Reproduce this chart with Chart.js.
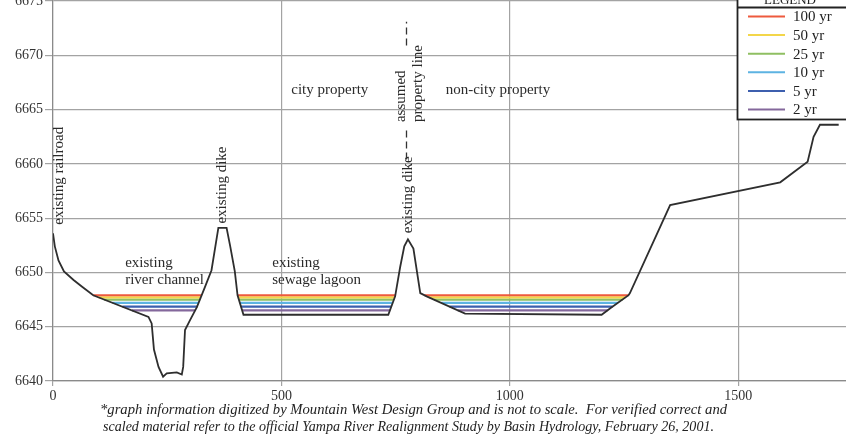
<!DOCTYPE html>
<html>
<head>
<meta charset="utf-8">
<script src="https://cdn.jsdelivr.net/npm/chart.js@4/dist/chart.umd.min.js"></script>
<style>
  html, body { margin: 0; padding: 0; background: #fff; overflow: hidden; }
  #wrap { position: relative; width: 846px; height: 440px; }
  canvas { display: block; }
</style>
</head>
<body>
<div id="wrap"><canvas id="xs" width="846" height="440"></canvas></div>
<script>
// Ground profile across the Yampa River corridor (station in ft, elevation in ft)
const station = [0, 4, 12, 24, 45, 63, 88, 209, 216, 221, 231, 241, 249, 271, 282, 285, 289, 300, 315, 333, 347, 362, 380, 388, 398, 404, 417, 734, 749, 760, 769, 777, 789, 804, 818, 902, 1201, 1220, 1260, 1263, 1351, 1592, 1652, 1665, 1679, 1720];
const groundElev = [6653.6, 6652.4, 6651.1, 6650.1, 6649.3, 6648.7, 6647.9, 6645.9, 6645.3, 6642.9, 6641.3, 6640.4, 6640.7, 6640.8, 6640.6, 6641.3, 6644.7, 6645.6, 6646.8, 6648.7, 6650.2, 6654.1, 6654.1, 6652.4, 6650.1, 6647.9, 6646.1, 6646.1, 6647.8, 6650.5, 6652.4, 6653.05, 6652.2, 6648.1, 6647.8, 6646.2, 6646.1, 6646.7, 6647.9, 6648.1, 6656.2, 6658.3, 6660.2, 6662.5, 6663.6, 6663.6];

// Flood return periods and their water-surface elevations
const returnPeriods = ['100 yr', '50 yr', '25 yr', '10 yr', '5 yr', '2 yr'];
const waterElev = [6647.9, 6647.7, 6647.5, 6647.2, 6646.85, 6646.5];
const periodColors = ['#ee5a3e', '#f3d64a', '#8fbf62', '#5db3e2', '#3d5fae', '#84689c'];

// Where each water surface meets the banks (station), per basin
const channelLeft  = [88, 100, 112, 130, 152, 173];
const channelRight = [325, 323, 322, 319, 316, 311];
const lagoonLeft   = [404, 405, 407, 409, 411, 414];
const lagoonRight  = [749, 748, 746, 744, 741, 738];
const eastLeft     = [813, 823, 834, 850, 868, 886];
const eastRight    = [1260, 1253, 1247, 1237, 1225, 1214];

// Axis ticks
const xTicks = [0, 500, 1000, 1500];
const yTicks = [6640, 6645, 6650, 6655, 6660, 6665, 6670, 6675];

const serif = '"Liberation Serif", "Times New Roman", serif';

const groundData = station.map((s, i) => ({ x: s, y: groundElev[i] }));

const waterSets = returnPeriods.map((label, i) => ({
  label: label,
  data: [
    { x: channelLeft[i], y: waterElev[i] }, { x: channelRight[i], y: waterElev[i] },
    { x: channelRight[i], y: null },
    { x: lagoonLeft[i], y: waterElev[i] }, { x: lagoonRight[i], y: waterElev[i] },
    { x: lagoonRight[i], y: null },
    { x: eastLeft[i], y: waterElev[i] }, { x: eastRight[i], y: waterElev[i] }
  ],
  showLine: true,
  spanGaps: false,
  borderColor: periodColors[i],
  borderWidth: 2.2,
  pointRadius: 0,
  tension: 0
}));

// Text notes placed in data coordinates
const notes = [
  { text: 'city property', x: 606, y: 6666.8, align: 'center', rot: false },
  { text: 'non-city property', x: 974, y: 6666.8, align: 'center', rot: false },
  { text: 'existing', x: 158, y: 6650.9, align: 'left', rot: false },
  { text: 'river channel', x: 158, y: 6649.3, align: 'left', rot: false },
  { text: 'existing', x: 480, y: 6650.9, align: 'left', rot: false },
  { text: 'sewage lagoon', x: 480, y: 6649.3, align: 'left', rot: false },
  { text: 'existing railroad', x: 13, y: 6658.9, align: 'center', rot: true },
  { text: 'existing dike', x: 370, y: 6658.05, align: 'center', rot: true },
  { text: 'existing dike', x: 777, y: 6653.6, align: 'left', rot: true },
  { text: 'assumed', x: 762, y: 6663.85, align: 'left', rot: true },
  { text: 'property line', x: 799, y: 6663.85, align: 'left', rot: true }
];
// Dashed property line segments (station, from elev, to elev)
const propertyLineStation = 773;
const propertyLineSpans = [[6660.4, 6663.4], [6670.9, 6673.1]];

const footnote = [
  '*graph information digitized by Mountain West Design Group and is not to scale.  For verified correct and',
  'scaled material refer to the official Yampa River Realignment Study by Basin Hydrology, February 26, 2001.'
];

const decorations = {
  id: 'decorations',
  afterDatasetsDraw(chart) {
    const ctx = chart.ctx;
    const xs = chart.scales.x, ys = chart.scales.y;
    ctx.save();
    ctx.fillStyle = '#2b2b2b';
    ctx.font = '15px ' + serif;
    ctx.textBaseline = 'middle';
    notes.forEach(n => {
      const px = xs.getPixelForValue(n.x), py = ys.getPixelForValue(n.y);
      ctx.save();
      ctx.translate(px, py);
      if (n.rot) ctx.rotate(-Math.PI / 2);
      ctx.textAlign = n.align;
      ctx.fillText(n.text, 0, 0);
      ctx.restore();
    });
    // dashed property line
    ctx.strokeStyle = '#333';
    ctx.lineWidth = 1.3;
    ctx.setLineDash([7, 4]);
    const lx = Math.round(xs.getPixelForValue(propertyLineStation)) + 0.5;
    propertyLineSpans.forEach(([a, b]) => {
      ctx.beginPath();
      ctx.moveTo(lx, ys.getPixelForValue(a));
      ctx.lineTo(lx, ys.getPixelForValue(b));
      ctx.stroke();
    });
    ctx.setLineDash([]);
    ctx.restore();
  },
  afterDraw(chart) {
    const ctx = chart.ctx;
    ctx.save();
    // legend box
    const bx = 737.5, by = -30, bw = 130, bottom = 119.5;
    ctx.fillStyle = '#fff';
    ctx.fillRect(bx, by, bw, bottom - by);
    ctx.strokeStyle = '#222';
    ctx.lineWidth = 1.8;
    ctx.strokeRect(bx, by, bw, bottom - by);
    ctx.beginPath();
    ctx.moveTo(bx, 7.5);
    ctx.lineTo(bx + bw, 7.5);
    ctx.stroke();
    ctx.fillStyle = '#222';
    ctx.font = '13px ' + serif;
    ctx.textAlign = 'center';
    ctx.textBaseline = 'alphabetic';
    ctx.fillText('LEGEND', 790, 4);
    ctx.font = '15px ' + serif;
    ctx.textAlign = 'left';
    ctx.textBaseline = 'middle';
    returnPeriods.forEach((label, i) => {
      const y = 16.5 + i * 18.6;
      ctx.strokeStyle = periodColors[i];
      ctx.lineWidth = 2;
      ctx.beginPath();
      ctx.moveTo(748, y);
      ctx.lineTo(785, y);
      ctx.stroke();
      ctx.fillStyle = '#222';
      ctx.fillText(label, 793, y + 1);
    });
    // footnote
    ctx.fillStyle = '#222';
    ctx.textBaseline = 'alphabetic';
    ctx.font = 'italic 14.65px ' + serif;
    ctx.fillText(footnote[0], 100, 414);
    ctx.font = 'italic 14.05px ' + serif;
    ctx.fillText(footnote[1], 103, 431);
    ctx.restore();
  }
};

new Chart(document.getElementById('xs'), {
  type: 'scatter',
  data: {
    datasets: [
      {
        label: 'ground',
        data: groundData,
        showLine: true,
        borderColor: '#2e2e2e',
        borderWidth: 1.8,
        pointRadius: 0,
        tension: 0
      },
      ...waterSets
    ]
  },
  options: {
    responsive: false,
    animation: false,
    devicePixelRatio: 1,
    layout: { autoPadding: false, padding: { top: 1, left: 0, right: 0, bottom: 0 } },
    plugins: { legend: { display: false }, tooltip: { enabled: false } },
    scales: {
      x: {
        type: 'linear',
        min: 0,
        max: 1736,
        afterBuildTicks: s => { s.ticks = xTicks.map(v => ({ value: v })); },
        afterFit: s => { s.height = 59; s.paddingLeft = 0; s.paddingRight = 0; },
        ticks: { font: { family: serif, size: 14 }, color: '#333', padding: 2, maxRotation: 0, callback: v => String(v) },
        grid: { color: '#a3a3a3', lineWidth: 1.2, tickLength: 5, drawTicks: true },
        border: { color: '#8a8a8a', width: 1.2 }
      },
      y: {
        type: 'linear',
        min: 6640,
        max: 6675,
        afterBuildTicks: s => { s.ticks = yTicks.map(v => ({ value: v })); },
        afterFit: s => { s.width = 53; s.paddingTop = 0; s.paddingBottom = 0; },
        ticks: { font: { family: serif, size: 14 }, color: '#333', padding: 2, callback: v => String(v) },
        grid: { color: '#a3a3a3', lineWidth: 1.2, tickLength: 8, drawTicks: true },
        border: { color: '#8a8a8a', width: 1.2 }
      }
    }
  },
  plugins: [decorations]
});
</script>
</body>
</html>
